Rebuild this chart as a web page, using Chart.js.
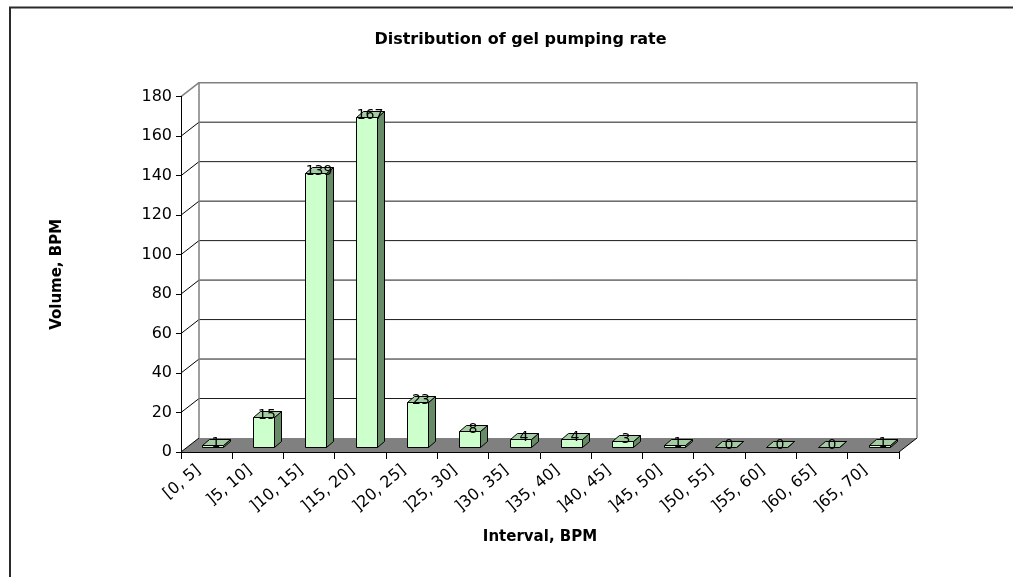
<!DOCTYPE html>
<html>
<head>
<meta charset="utf-8">
<title>Distribution of gel pumping rate</title>
<script src="https://cdn.jsdelivr.net/npm/chart.js@4.4.1/dist/chart.umd.min.js"></script>
<style>
  html, body { margin: 0; padding: 0; background: #ffffff; }
  #wrap { width: 1013px; height: 577px; position: relative; overflow: hidden; }
  canvas { display: block; }
</style>
</head>
<body>
<div id="wrap"><canvas id="chart" width="1013" height="577"></canvas></div>
<script>
// Pumping-rate intervals (BPM) and how many readings fell in each
const categories = [
  '[0, 5]', ']5, 10]', ']10, 15]', ']15, 20]', ']20, 25]', ']25, 30]', ']30, 35]',
  ']35, 40]', ']40, 45]', ']45, 50]', ']50, 55]', ']55, 60]', ']60, 65]', ']65, 70]'
];
const volumes = [1, 15, 139, 167, 23, 8, 4, 4, 3, 1, 0, 0, 0, 1];
const yTickValues = [0, 20, 40, 60, 80, 100, 120, 140, 160, 180];

// Pseudo-3D geometry: depth of the floor / back wall, and placement of the boxes
const DEPTH_X = 18, DEPTH_Y = -14;
const BAR_SHIFT_X = 6, BAR_SHIFT_Y = -5;
const BAR_DEPTH_X = 7, BAR_DEPTH_Y = -6;

const FRONT_FILL = '#CCFFCC';
const TOP_FILL = '#A3CCA3';
const SIDE_FILL = '#678A67';
const FONT = 'DejaVu Sans';

function seg(ctx, x1, y1, x2, y2) {
  ctx.beginPath();
  ctx.moveTo(x1, y1);
  ctx.lineTo(x2, y2);
  ctx.stroke();
}

function poly(ctx, pts, fill) {
  ctx.beginPath();
  ctx.moveTo(pts[0][0], pts[0][1]);
  for (let i = 1; i < pts.length; i++) ctx.lineTo(pts[i][0], pts[i][1]);
  ctx.closePath();
  ctx.fillStyle = fill;
  ctx.fill();
  ctx.stroke();
}

const wallAndFloor = {
  id: 'wallAndFloor',
  beforeDraw(chart) {
    const { ctx, chartArea: a, scales: { x, y } } = chart;
    ctx.save();

    // chart frame
    ctx.strokeStyle = '#2b2b2b';
    ctx.lineWidth = 2;
    ctx.strokeRect(10, 7.5, 1300, 900);

    const y0 = y.getPixelForValue(0);
    const yMax = y.getPixelForValue(y.max);

    // floor
    ctx.fillStyle = '#808080';
    ctx.beginPath();
    ctx.moveTo(a.left, y0);
    ctx.lineTo(a.right, y0);
    ctx.lineTo(a.right + DEPTH_X, y0 + DEPTH_Y);
    ctx.lineTo(a.left + DEPTH_X, y0 + DEPTH_Y);
    ctx.closePath();
    ctx.fill();
    ctx.strokeStyle = '#000';
    ctx.lineWidth = 1;
    seg(ctx, a.right, y0, a.right + DEPTH_X, y0 + DEPTH_Y);

    // back-wall gridlines and the depth strokes from each value tick
    y.ticks.forEach(t => {
      const py = y.getPixelForValue(t.value);
      if (t.value > 0 && t.value < y.max) {
        ctx.strokeStyle = '#1a1a1a';
        ctx.lineWidth = 1;
        seg(ctx, a.left + DEPTH_X, py + DEPTH_Y, a.right + DEPTH_X, py + DEPTH_Y);
      }
      ctx.strokeStyle = t.value === y.max ? '#808080' : '#000';
      ctx.lineWidth = t.value === y.max ? 1.5 : 1;
      seg(ctx, a.left, py, a.left + DEPTH_X, py + DEPTH_Y);
    });

    // back-wall outline
    ctx.strokeStyle = '#808080';
    ctx.lineWidth = 1.5;
    ctx.beginPath();
    ctx.moveTo(a.left + DEPTH_X, y0 + DEPTH_Y);
    ctx.lineTo(a.left + DEPTH_X, yMax + DEPTH_Y);
    ctx.lineTo(a.right + DEPTH_X, yMax + DEPTH_Y);
    ctx.lineTo(a.right + DEPTH_X, y0 + DEPTH_Y);
    ctx.stroke();

    ctx.restore();
  },
  afterDatasetsDraw(chart) {
    const { ctx } = chart;
    const meta = chart.getDatasetMeta(0);
    ctx.save();
    ctx.strokeStyle = '#000';
    ctx.lineWidth = 1;
    ctx.lineJoin = 'miter';
    meta.data.forEach((bar, i) => {
      const p = bar.getProps(['x', 'y', 'base', 'width'], true);
      const L = Math.round(p.x - p.width / 2 + BAR_SHIFT_X) + 0.5;
      const R = Math.round(p.x + p.width / 2 + BAR_SHIFT_X) + 0.5;
      const T = Math.round(p.y + BAR_SHIFT_Y) + 0.5;
      const B = Math.round(p.base + BAR_SHIFT_Y) + 0.5;
      // right side
      poly(ctx, [[R, B], [R + BAR_DEPTH_X, B + BAR_DEPTH_Y], [R + BAR_DEPTH_X, T + BAR_DEPTH_Y], [R, T]], SIDE_FILL);
      // top
      poly(ctx, [[L, T], [R, T], [R + BAR_DEPTH_X, T + BAR_DEPTH_Y], [L + BAR_DEPTH_X, T + BAR_DEPTH_Y]], TOP_FILL);
      // front
      if (B - T >= 1) poly(ctx, [[L, T], [R, T], [R, B], [L, B]], FRONT_FILL);
      // value label
      ctx.fillStyle = '#000';
      ctx.font = '14px "' + FONT + '"';
      ctx.textAlign = 'center';
      ctx.textBaseline = 'alphabetic';
      ctx.fillText(String(volumes[i]), (L + R) / 2 + 3, T + 1);
    });
    ctx.restore();
  }
};

Chart.defaults.color = '#000';
Chart.defaults.font.family = FONT;

new Chart(document.getElementById('chart'), {
  type: 'bar',
  data: {
    labels: categories,
    datasets: [{
      label: 'Volume, BPM',
      data: volumes,
      backgroundColor: 'rgba(0,0,0,0)',
      borderWidth: 0,
      categoryPercentage: 0.41,
      barPercentage: 1
    }]
  },
  options: {
    responsive: false,
    animation: false,
    events: [],
    devicePixelRatio: 1,
    layout: { padding: { left: 28, right: 0, top: 0, bottom: 0 } },
    plugins: {
      legend: { display: false },
      tooltip: { enabled: false },
      title: {
        display: true,
        text: 'Distribution of gel pumping rate',
        color: '#000',
        font: { family: FONT, size: 16, weight: 'bold' },
        padding: { top: 30.4, bottom: 47.1 }
      }
    },
    scales: {
      x: {
        type: 'category',
        offset: true,
        grid: { display: true, drawOnChartArea: false, drawTicks: true, tickLength: 7, color: '#000', offset: true },
        border: { display: true, color: '#000', width: 1 },
        ticks: {
          autoSkip: false, minRotation: 40, maxRotation: 40,
          labelOffset: -8, padding: 2,
          font: { family: FONT, size: 16 }, color: '#000'
        },
        title: {
          display: true, text: 'Interval, BPM', color: '#000',
          font: { family: FONT, size: 15, weight: 'bold' },
          padding: { top: 4, bottom: 31 }
        },
        afterFit(s) { s.height = 125; }
      },
      y: {
        type: 'linear',
        position: 'left',
        min: 0, max: 180,
        grid: { display: true, drawOnChartArea: false, drawTicks: true, tickLength: 5, color: '#000' },
        border: { display: true, color: '#000', width: 1 },
        ticks: { padding: 4, font: { family: FONT, size: 16 }, color: '#000' },
        afterBuildTicks(s) { s.ticks = yTickValues.map(v => ({ value: v })); },
        title: {
          display: true, text: 'Volume, BPM', color: '#000',
          font: { family: FONT, size: 15, weight: 'bold' },
          padding: { top: 20, bottom: 0 }
        },
        afterFit(s) { s.width = 153; }
      },
      spacer: {
        type: 'linear',
        position: 'right',
        display: true,
        grid: { display: false },
        border: { display: false },
        ticks: { display: false },
        afterFit(s) { s.width = 114; }
      }
    }
  },
  plugins: [wallAndFloor]
});
</script>
</body>
</html>
